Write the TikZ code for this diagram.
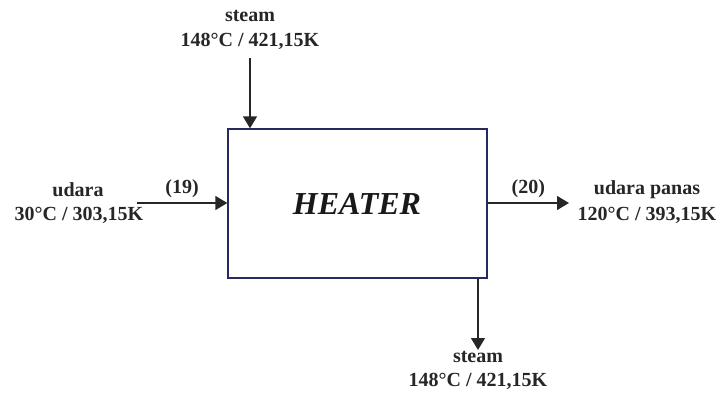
\documentclass[tikz,border=0pt]{standalone}
\usepackage{fontspec}
\setmainfont{Liberation Serif}
\usetikzlibrary{arrows.meta}
\definecolor{boxnavy}{RGB}{38,42,95}
\tikzset{
  lbl/.style={font=\bfseries\fontsize{20}{22}\selectfont, inner sep=0pt, align=center, text=black!85},
  flow/.style={draw=black!85, line width=1.4pt, -{Triangle[width=14pt,length=12pt]}},
  unit/.style={draw=boxnavy, line width=1.4pt, minimum width=259pt, minimum height=149pt, inner sep=0pt}
}
\begin{document}
\begin{tikzpicture}[x=1pt,y=-1pt]
\useasboundingbox (0,0) rectangle (719,392);
\node[unit] (heater) at (357.5,203.5) {};
\node[font=\bfseries\itshape\fontsize{32}{34}\selectfont, text=black!90] (htxt) at (357,204) {HEATER};
% top steam in
\node[lbl] (sin1) at (250,16) {steam};
\node[lbl] (sin2) at (250,41) {148°C / 421,15K};
\coordinate (tin) at (250,58);
\draw[flow] (tin) -- (tin |- heater.north);
% left udara in
\node[lbl] (ud1) at (78,190) {udara};
\node[lbl] (ud2) at (79,215) {30°C / 303,15K};
\coordinate (lin) at (137,203);
\draw[flow] (lin) -- (lin -| heater.west) node[midway, above=5pt, lbl] (n19) {(19)};
% right udara panas out
\node[lbl] (up1) at (647,190) {udara panas};
\node[lbl] (up2) at (647,215) {120°C / 393,15K};
\coordinate (rout) at (569,203);
\draw[flow] (rout -| heater.east) -- (rout) node[midway, above=5pt, lbl] (n20) {(20)};
% bottom steam out
\coordinate (bout) at (478,350);
\draw[flow] (bout |- heater.south) -- (bout);
\node[lbl] (so1) at (478,357) {steam};
\node[lbl] (so2) at (478,381) {148°C / 421,15K};
\end{tikzpicture}
\end{document}
